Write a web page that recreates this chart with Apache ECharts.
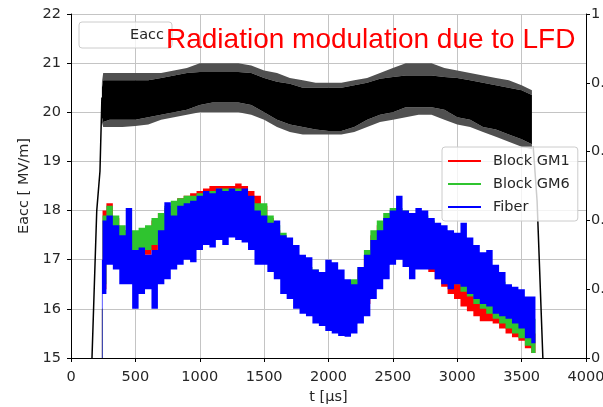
<!DOCTYPE html>
<html><head><meta charset="utf-8">
<script src="https://cdn.jsdelivr.net/npm/echarts@6/dist/echarts.min.js"></script>
<style>html,body{margin:0;padding:0;background:#fff}#c{width:603px;height:407px}</style>
</head><body><div id="c"></div>
<script>
// ---- Eacc (black noisy band) ----
const tEacc = [240,250,300,400,500,600,700,800,900,1000,1100,1200,1300,1400,1500,1600,1700,1800,1900,2000,2100,2200,2300,2400,2500,2600,2700,2800,2900,3000,3100,3200,3300,3400,3500,3580];
const eaccLo = [19.9,19.8,19.85,19.85,19.85,19.9,19.95,20.0,20.05,20.15,20.2,20.2,20.2,20.15,20.0,19.85,19.75,19.7,19.65,19.62,19.62,19.7,19.85,19.95,20.0,20.1,20.1,20.1,20.05,19.9,19.85,19.7,19.65,19.55,19.45,19.35];
const eaccHi = [20.5,20.65,20.65,20.65,20.65,20.65,20.7,20.75,20.8,20.82,20.82,20.82,20.82,20.8,20.7,20.62,20.58,20.5,20.5,20.5,20.5,20.55,20.6,20.68,20.72,20.75,20.75,20.75,20.72,20.7,20.65,20.6,20.55,20.5,20.45,20.35];
const eaccSpikeHi = [20.6,20.8,20.8,20.8,20.8,20.8,20.8,20.85,20.9,21.0,21.0,21.0,21.0,20.95,20.85,20.8,20.7,20.65,20.6,20.6,20.6,20.65,20.7,20.8,20.9,21.0,21.0,21.0,20.9,20.85,20.8,20.75,20.7,20.65,20.55,20.45];
const eaccSpikeLo = [19.8,19.7,19.7,19.7,19.72,19.75,19.85,19.9,19.95,20.0,20.0,20.0,20.0,19.95,19.85,19.7,19.6,19.55,19.55,19.55,19.55,19.6,19.7,19.8,19.85,19.9,19.95,19.95,19.85,19.75,19.7,19.6,19.5,19.4,19.3,19.25];
const rampUpT = [163,200,225,240];
const rampUpV = [15,18,18.8,20.3];
const rampDownT = [3590,3620,3630,3665];
const rampDownV = [19.3,18.2,17.5,15];

// ---- radiation signals ----
const tSig = [240,250,300,350,400,450,500,550,600,650,700,750,800,850,900,950,1000,1050,1100,1150,1200,1250,1300,1350,1400,1450,1500,1550,1600,1650,1700,1750,1800,1850,1900,1950,2000,2050,2100,2150,2200,2250,2300,2350,2400,2450,2500,2550,2600,2650,2700,2750,2800,2850,2900,2950,3000,3050,3100,3150,3200,3250,3300,3350,3400,3450,3500,3550,3600,3615];
const gm1Hi = [16.0,18.0,18.15,17.85,17.6,17.5,17.5,17.5,17.6,17.8,17.95,18.05,18.15,18.25,18.3,18.35,18.4,18.45,18.5,18.5,18.5,18.5,18.55,18.5,18.4,18.3,18.1,17.85,17.6,17.45,17.2,17.0,16.85,16.75,16.7,16.6,16.5,16.45,16.45,16.45,16.55,16.8,17.1,17.5,17.7,17.85,17.95,18.0,17.95,17.9,17.85,17.8,17.7,17.55,17.45,17.3,17.2,17.05,16.9,16.75,16.6,16.45,16.3,16.15,16.0,15.9,15.8,15.65,15.5,15.0];
const gm1Lo = [15.0,16.4,17.1,17.1,17.0,17.0,16.95,17.05,17.1,17.2,17.3,17.45,17.55,17.6,17.6,17.65,17.7,17.75,17.75,17.8,17.8,17.8,17.75,17.7,17.6,17.5,17.3,17.1,16.9,16.7,16.5,16.3,16.1,15.95,15.85,15.75,15.65,15.6,15.55,15.6,15.7,15.9,16.1,16.4,16.7,16.9,17.05,17.1,17.1,17.0,16.95,16.85,16.75,16.6,16.45,16.3,16.2,16.05,15.95,15.85,15.75,15.75,15.7,15.6,15.5,15.42,15.35,15.2,15.1,15.0];
const gm6Hi = [16.0,17.9,18.1,17.9,17.7,17.6,17.6,17.65,17.7,17.85,17.95,18.1,18.2,18.25,18.3,18.3,18.35,18.4,18.4,18.45,18.45,18.45,18.45,18.4,18.25,18.15,18.15,17.9,17.7,17.55,17.3,17.1,16.95,16.85,16.8,16.7,16.6,16.55,16.5,16.5,16.6,16.85,17.2,17.6,17.8,17.95,18.05,18.05,18.0,17.95,17.95,17.9,17.8,17.7,17.6,17.5,17.4,17.3,17.2,17.05,16.95,16.8,16.7,16.55,16.4,16.3,16.2,16.0,15.8,15.0];
const gm6Lo = [15.0,16.5,17.2,17.2,17.1,17.1,17.1,17.15,17.2,17.3,17.4,17.5,17.6,17.6,17.6,17.6,17.7,17.7,17.7,17.8,17.8,17.8,17.75,17.7,17.6,17.5,17.4,17.2,17.0,16.8,16.6,16.4,16.2,16.0,15.9,15.8,15.7,15.65,15.6,15.65,15.75,15.95,16.2,16.5,16.8,17.0,17.15,17.2,17.2,17.15,17.1,17.0,16.9,16.8,16.7,16.6,16.5,16.35,16.25,16.1,16.0,15.9,15.8,15.7,15.6,15.5,15.4,15.25,15.1,15.0];
const fiberHi = [17.0,17.8,17.9,17.7,17.5,18.05,17.2,17.25,17.1,17.2,17.6,18.17,17.9,18.1,18.15,18.2,18.3,18.4,18.35,18.45,18.4,18.45,18.4,18.45,18.3,18.0,17.9,17.75,17.8,17.5,17.45,17.3,17.1,17.05,16.8,16.75,17.0,16.95,16.8,16.6,16.5,16.85,17.1,17.4,17.6,17.85,18.0,18.3,18.0,17.95,18.05,18.0,17.85,17.75,17.7,17.6,17.55,17.75,17.45,17.3,17.15,17.2,16.9,16.75,16.5,16.45,16.4,16.25,16.25,15.0];
const fiberLo = [15.0,16.3,16.9,16.8,16.5,16.5,16.0,16.3,16.4,16.0,16.5,16.6,16.8,16.9,17.0,16.95,17.2,17.3,17.25,17.4,17.3,17.45,17.4,17.35,17.2,16.9,16.9,16.75,16.6,16.3,16.2,16.0,15.9,15.85,15.7,15.65,15.55,15.5,15.45,15.43,15.5,15.7,15.85,16.2,16.4,16.6,16.9,17.0,16.85,16.6,16.8,16.8,16.8,16.6,16.5,16.4,16.5,16.45,16.3,16.2,16.1,16.05,15.9,15.85,15.8,15.7,15.6,15.4,15.3,15.0];

const FONT = 'DejaVu Sans';
const TXT = '#262626';

function rows(ts, lo, hi) { return ts.map((t, i) => [t, lo[i], hi[i]]); }

// whole band as ONE polygon (no seams). stepped: each sample spans half-way to its neighbours
function band(name, ts, lo, hi, color, stepped) {
  return {
    name: name, type: 'custom', silent: true, clip: true,
    itemStyle: { color: color },
    encode: { x: 0, y: [1, 2] },
    data: rows(ts, lo, hi),
    renderItem: function (params, api) {
      if (params.dataIndex !== 0) return null;
      const n = ts.length;
      const top = [], bot = [];
      for (let i = 0; i < n; i++) {
        if (stepped) {
          const x0 = i > 0 ? (ts[i - 1] + ts[i]) / 2 : ts[i];
          const x1 = i < n - 1 ? (ts[i] + ts[i + 1]) / 2 : ts[i];
          top.push(api.coord([x0, hi[i]]), api.coord([x1, hi[i]]));
          bot.push(api.coord([x0, lo[i]]), api.coord([x1, lo[i]]));
        } else {
          top.push(api.coord([ts[i], hi[i]]));
          bot.push(api.coord([ts[i], lo[i]]));
        }
      }
      const pts = top.concat(bot.reverse());
      return { type: 'polygon', shape: { points: pts }, style: { fill: color } };
    }
  };
}

const fringe = '#505050';
const series = [
  band('eacc low fringe', tEacc, eaccSpikeLo, eaccLo, fringe, false),
  band('eacc high fringe', tEacc, eaccHi, eaccSpikeHi, fringe, false),
  band('Eacc', tEacc, eaccLo, eaccHi, '#000000', false),
  { name: 'eacc up', type: 'line', symbol: 'none', silent: true, data: rampUpT.map((t, i) => [t, rampUpV[i]]),
    lineStyle: { color: '#000', width: 1.5 } },
  { name: 'eacc down', type: 'line', symbol: 'none', silent: true, data: rampDownT.map((t, i) => [t, rampDownV[i]]),
    lineStyle: { color: '#000', width: 1.5 } },
  band('Block GM1', tSig, gm1Lo, gm1Hi, '#ff0000', true),
  band('Block GM6', tSig, gm6Lo, gm6Hi, '#2fc42f', true),
  band('Fiber', tSig, fiberLo, fiberHi, '#0000ff', true)
];

const chart = echarts.init(document.getElementById('c'), null, { renderer: 'canvas', width: 603, height: 407 });
chart.setOption({
  animation: false,
  backgroundColor: '#fff',
  title: {
    text: 'Radiation modulation due to LFD', left: 166, top: 26, padding: 0,
    textStyle: { color: '#ff0000', fontFamily: 'Liberation Sans', fontSize: 28, fontWeight: 'normal' }
  },
  grid: { left: 71, right: 17, top: 14, bottom: 49, containLabel: false, outerBoundsMode: 'none' },
  legend: [
    { data: [{ name: 'Eacc', icon: 'rect', itemStyle: { color: 'rgba(0,0,0,0)' } }],
      left: 79, top: 22, orient: 'vertical', selectedMode: false,
      itemWidth: 40, itemHeight: 2, padding: [5, 8, 5, 6],
      backgroundColor: 'rgba(255,255,255,0.8)', borderColor: '#cccccc', borderWidth: 1, borderRadius: 3,
      textStyle: { fontFamily: FONT, fontSize: 14.5, color: TXT, lineHeight: 16 } },
    { data: ['Block GM1', 'Block GM6', 'Fiber'], icon: 'rect',
      left: 442, top: 147, orient: 'vertical', selectedMode: false,
      itemWidth: 33, itemHeight: 2, itemGap: 7, padding: [6, 8, 6, 6],
      backgroundColor: 'rgba(255,255,255,0.8)', borderColor: '#cccccc', borderWidth: 1, borderRadius: 3,
      textStyle: { fontFamily: FONT, fontSize: 14.5, color: TXT, lineHeight: 16, padding: [0, 0, 0, 7] } }
  ],
  xAxis: {
    type: 'value', min: 0, max: 4000, interval: 500,
    name: 't [µs]', nameLocation: 'middle', nameGap: 32,
    nameTextStyle: { fontFamily: FONT, fontSize: 14.5, color: TXT },
    axisLine: { lineStyle: { color: '#000', width: 1 } },
    axisTick: { inside: false, length: 4, lineStyle: { color: '#000' } },
    axisLabel: { fontFamily: FONT, fontSize: 14.5, color: TXT, margin: 12, formatter: v => String(v) },
    splitLine: { show: true, lineStyle: { color: '#c4c4c4', width: 1 } }
  },
  yAxis: [
    { type: 'value', min: 15, max: 22, interval: 1, position: 'left',
      name: 'Eacc [ MV/m]', nameLocation: 'middle', nameGap: 37,
      nameTextStyle: { fontFamily: FONT, fontSize: 14.5, color: TXT },
      axisLine: { show: true, lineStyle: { color: '#000', width: 1 } },
      axisTick: { show: true, inside: false, length: 4, lineStyle: { color: '#000' } },
      axisLabel: { fontFamily: FONT, fontSize: 14.5, color: TXT, margin: 10 },
      splitLine: { show: true, lineStyle: { color: '#c4c4c4', width: 1 } } },
    { type: 'value', min: 0, max: 1, interval: 0.2, position: 'right',
      axisLine: { show: true, lineStyle: { color: '#000', width: 1 } },
      axisTick: { show: true, inside: false, length: 4, lineStyle: { color: '#000' } },
      axisLabel: { fontFamily: FONT, fontSize: 14.5, color: TXT, margin: 5,
        formatter: v => (v === 0 || v === 1) ? String(v) : v.toFixed(1) },
      splitLine: { show: false } }
  ],
  series: series
});
</script></body></html>
